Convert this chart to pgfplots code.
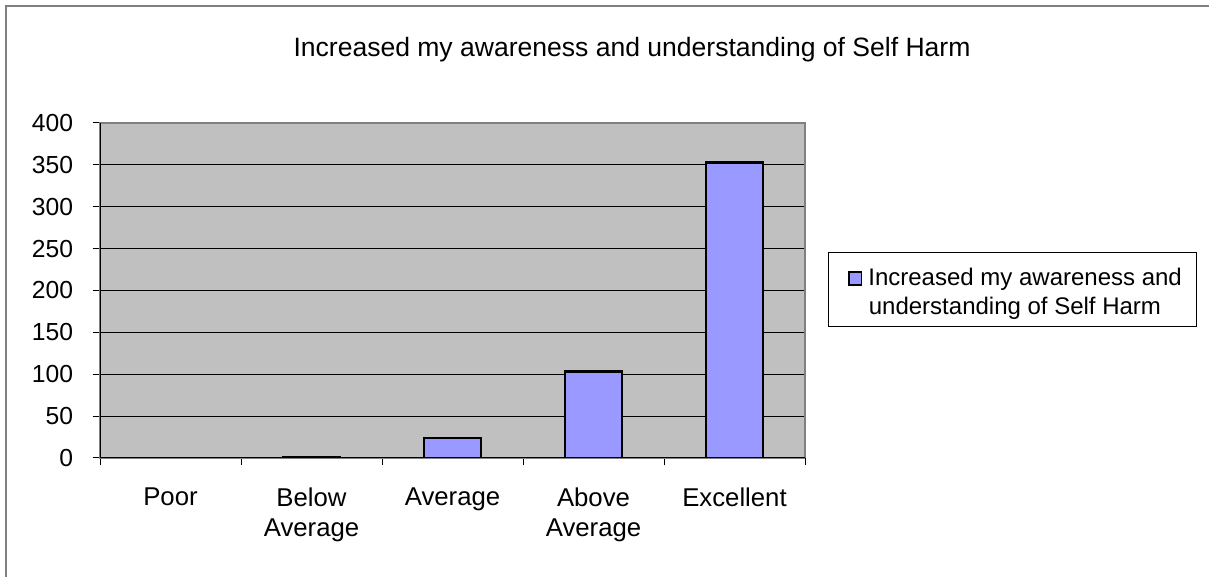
\documentclass[border=0pt]{standalone}
\usepackage{fontspec}
\setmainfont{Liberation Sans}
\usepackage{pgfplots}
\pgfplotsset{compat=1.18}
\definecolor{plotgray}{HTML}{C0C0C0}
\definecolor{bordergray}{HTML}{808080}
\definecolor{barblue}{HTML}{9999FF}

\begin{document}
\begin{tikzpicture}
\useasboundingbox (0,0) rectangle (906.75pt,432.75pt);
% outer chart frame (right and bottom edges fall outside the picture)
\begin{scope}
  \clip (0,0) rectangle (906.75pt,432.75pt);
  \draw[bordergray, line width=1.1pt] (4.5pt,-20pt) rectangle (930pt,428.25pt);
\end{scope}

\begin{axis}[
    at={(75pt,89.25pt)}, anchor=south west,
    width=528.75pt, height=251.25pt, scale only axis,
    xmin=-0.5, xmax=4.5,
    ymin=0, ymax=400,
    ytick={0,50,...,400},
    xtick={-0.5,0.5,...,3.5},
    xticklabels={Poor, Below\\Average, Average, Above\\Average, Excellent},
    extra x ticks={4.5}, extra x tick labels={},
    tick align=outside, xtick pos=left, ytick pos=left,
    major tick length=5.6pt,
    tick style={black, line width=0.75pt},
    axis line style={bordergray, line width=1.1pt},
    axis background/.style={fill=plotgray},
    ymajorgrids, major grid style={black, line width=0.75pt},
    /pgf/number format/assume math mode=true,
    yticklabel style={font=\fontsize{18.5}{21}\selectfont, inner sep=0pt, xshift=-14.4pt},
    xticklabel style={font=\fontsize{19.3}{22.5}\selectfont, align=center,
        anchor=north, inner sep=0pt, xshift=52.875pt, yshift=-16.9pt},
]
% Poor = 0 (no bar is visible)
\addplot[ybar, bar width=42.75pt, fill=barblue, draw=black, line width=2pt]
    coordinates {(1,1) (2,24) (3,103) (4,353)};
\draw[black, line width=0.75pt] (rel axis cs:0,1) -- (rel axis cs:0,0) -- (rel axis cs:1,0);
\end{axis}

% title
\node[anchor=base, inner sep=0pt, font=\fontsize{19.9}{24}\selectfont] at (474pt,390.2pt)
    {Increased my awareness and understanding of Self Harm};

% legend
\draw[black, line width=0.75pt] (621pt,187.5pt) rectangle (897pt,243pt);
\node[anchor=base, inner sep=0pt, font=\fontsize{18}{22}\selectfont] at (761.2pt,218.5pt)
    {\tikz[baseline=0pt]\draw[fill=barblue, line width=1.3pt] (0,0.5pt) rectangle (9.5pt,10.5pt);\hspace{4.5pt}Increased my awareness and};
\node[anchor=base, inner sep=0pt, font=\fontsize{18}{22}\selectfont] at (761.2pt,196.5pt)
    {understanding of Self Harm};
\end{tikzpicture}
\end{document}
